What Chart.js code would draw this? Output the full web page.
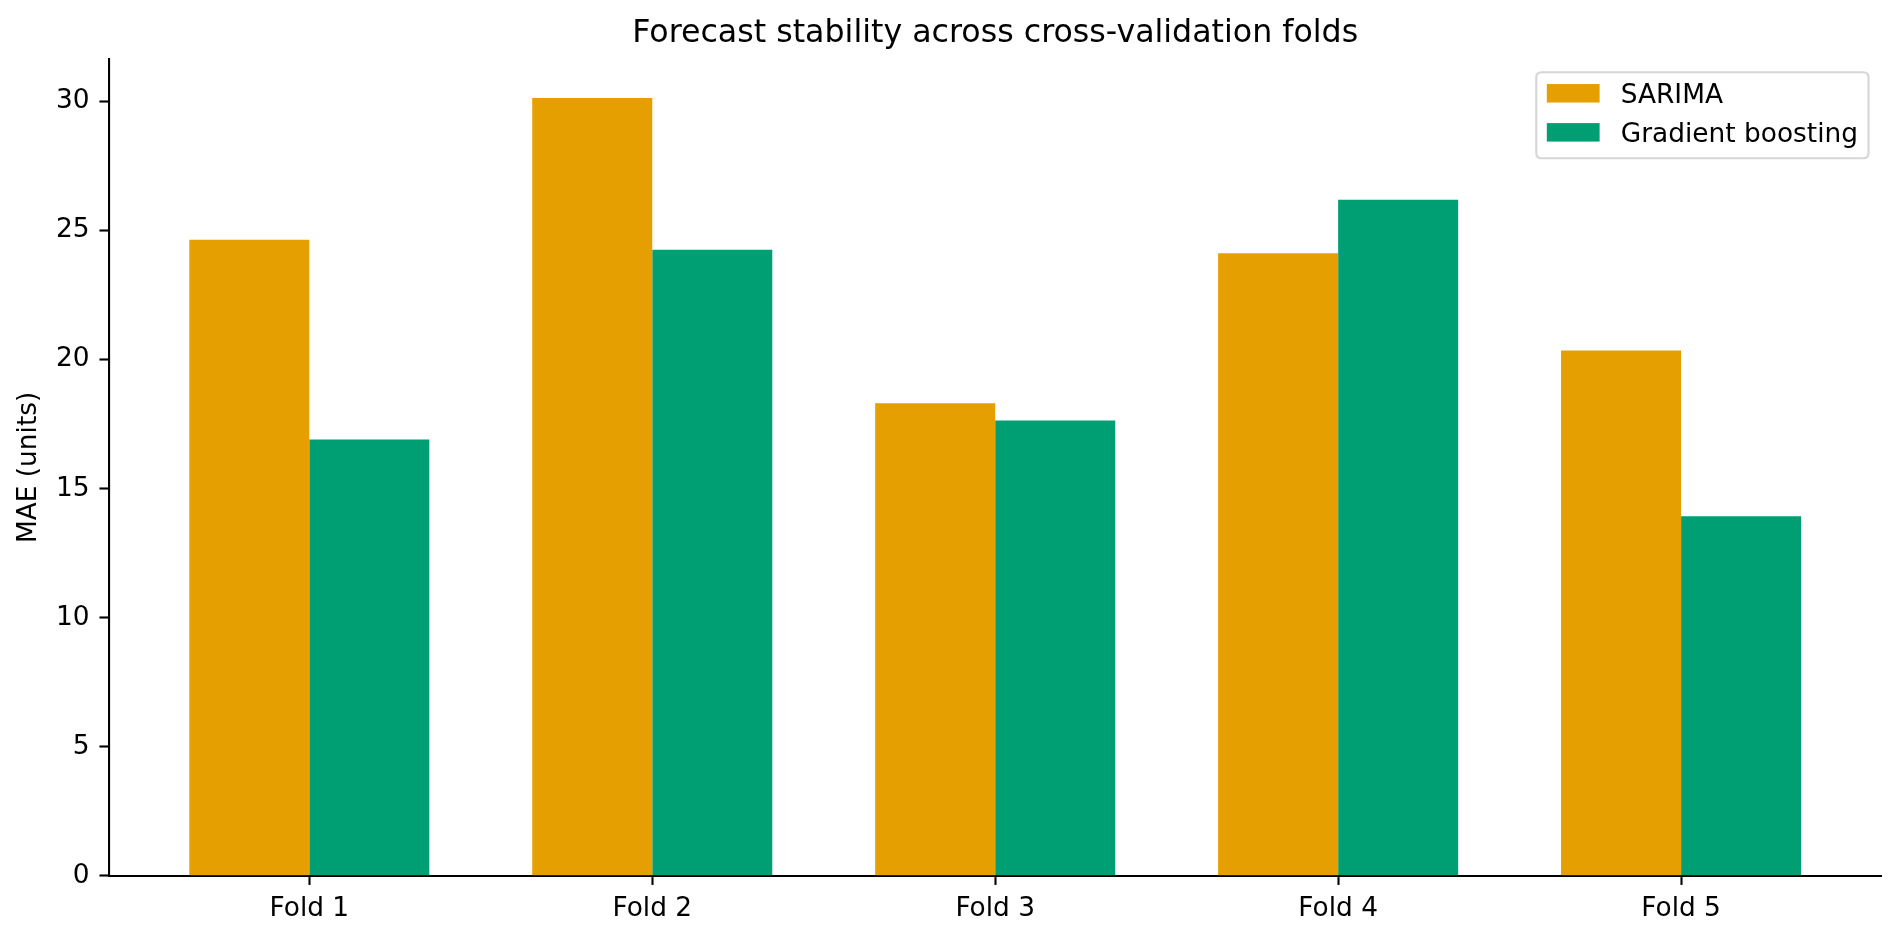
<!DOCTYPE html>
<html>
<head>
<meta charset="utf-8">
<title>Forecast stability across cross-validation folds</title>
<script src="https://cdn.jsdelivr.net/npm/chart.js@4.4.1/dist/chart.umd.min.js"></script>
<style>
    html, body { margin: 0; padding: 0; background: #ffffff; }
    #wrap { width: 1900px; height: 940px; }
</style>
</head>
<body>
<div id="wrap"><canvas id="cvChart" width="1900" height="940"></canvas></div>
<script>
// values
const foldLabels = ['Fold 1', 'Fold 2', 'Fold 3', 'Fold 4', 'Fold 5'];
const sarimaMae = [24.65, 30.14, 18.31, 24.12, 20.35];
const boostingMae = [16.90, 24.26, 17.64, 26.20, 13.93];
const seriesNames = ['SARIMA', 'Gradient boosting'];
const seriesColors = ['#E69F00', '#009E73'];
const yTickStep = 5;

const FONT = '"DejaVu Sans", "Liberation Sans", sans-serif';
const FS = 26.4; // 10pt at 190 dpi

// matplotlib style padding around the data
const xPad = 0.35 + 0.05 * (foldLabels.length - 1 + 0.7);
const yMax = Math.max(...sarimaMae, ...boostingMae) * 1.05;

// legend drawn inside the axes, top right, like matplotlib's 'best'
const innerLegend = {
    id: 'innerLegend',
    afterDraw(chart) {
        const { ctx, chartArea } = chart;
        const sets = chart.data.datasets;
        const pad = 0.4 * FS, handleW = 2 * FS, handleH = 0.7 * FS;
        const textPad = 0.8 * FS, gap = 0.5 * FS, rowH = 25.85;

        ctx.save();
        ctx.font = FS + 'px ' + FONT;
        const textW = Math.max(...sets.map(d => ctx.measureText(d.label).width));
        const w = pad * 2 + handleW + textPad + textW;
        const h = pad * 2 + sets.length * rowH + (sets.length - 1) * gap;
        const right = chartArea.right - 0.5 * FS;
        const top = chartArea.top + 0.5 * FS;
        const left = right - w;

        // rounded frame
        const r = 0.2 * FS;
        ctx.beginPath();
        ctx.moveTo(left + r, top);
        ctx.lineTo(left + w - r, top);
        ctx.quadraticCurveTo(left + w, top, left + w, top + r);
        ctx.lineTo(left + w, top + h - r);
        ctx.quadraticCurveTo(left + w, top + h, left + w - r, top + h);
        ctx.lineTo(left + r, top + h);
        ctx.quadraticCurveTo(left, top + h, left, top + h - r);
        ctx.lineTo(left, top + r);
        ctx.quadraticCurveTo(left, top, left + r, top);
        ctx.closePath();
        ctx.fillStyle = 'rgba(255,255,255,0.8)';
        ctx.fill();
        ctx.lineWidth = 2.1;
        ctx.strokeStyle = 'rgba(204,204,204,0.8)';
        ctx.stroke();

        sets.forEach((d, i) => {
            const cy = top + pad + rowH / 2 + i * (rowH + gap);
            ctx.fillStyle = d.backgroundColor;
            ctx.fillRect(left + pad, cy - 2.5 - handleH / 2, handleW, handleH);
            ctx.fillStyle = '#000000';
            ctx.textAlign = 'left';
            ctx.textBaseline = 'middle';
            ctx.fillText(d.label, left + pad + handleW + textPad, cy);
        });
        ctx.restore();
    }
};

const toPoints = vals => vals.map((v, i) => ({ x: i, y: v }));

new Chart(document.getElementById('cvChart'), {
    type: 'bar',
    data: {
        datasets: [
            {
                label: seriesNames[0],
                data: toPoints(sarimaMae),
                backgroundColor: seriesColors[0],
                borderWidth: 0,
            },
            {
                label: seriesNames[1],
                data: toPoints(boostingMae),
                backgroundColor: seriesColors[1],
                borderWidth: 0,
            },
        ],
    },
    options: {
        responsive: false,
        animation: false,
        devicePixelRatio: 1,
        datasets: {
            bar: {
                categoryPercentage: 0.7,
                barPercentage: 1.0,
            },
        },
        layout: {
            padding: { left: 0, right: 18.3, top: 0, bottom: 0 },
        },
        plugins: {
            legend: { display: false },
            tooltip: { enabled: false },
            title: {
                display: true,
                fullSize: false,
                text: 'Forecast stability across cross-validation folds',
                color: '#000000',
                font: { family: FONT, size: 31.67, weight: 'normal', lineHeight: 1.2 },
                padding: { top: 14.7, bottom: 6.4 },
            },
        },
        scales: {
            x: {
                type: 'linear',
                min: -xPad,
                max: foldLabels.length - 1 + xPad,
                offset: false,
                afterBuildTicks(scale) {
                    scale.ticks = foldLabels.map((_, i) => ({ value: i }));
                },
                afterFit(scale) {
                    scale.height = 64.3;
                },
                ticks: {
                    autoSkip: false,
                    maxRotation: 0,
                    padding: 8,
                    color: '#000000',
                    font: { family: FONT, size: FS },
                    callback: value => foldLabels[value],
                },
                grid: {
                    offset: false,
                    drawOnChartArea: false,
                    drawTicks: true,
                    tickLength: 9.24,
                    tickWidth: 2.1,
                    tickColor: '#000000',
                },
                border: { display: true, color: '#000000', width: 2.1 },
            },
            y: {
                min: 0,
                max: yMax,
                afterFit(scale) {
                    scale.width = 108.7;
                },
                ticks: {
                    stepSize: yTickStep,
                    includeBounds: false,
                    padding: 10,
                    color: '#000000',
                    font: { family: FONT, size: FS },
                },
                grid: {
                    drawOnChartArea: false,
                    drawTicks: true,
                    tickLength: 9.24,
                    tickWidth: 2.1,
                    tickColor: '#000000',
                },
                border: { display: true, color: '#000000', width: 2.1 },
                title: {
                    display: true,
                    text: 'MAE (units)',
                    color: '#000000',
                    font: { family: FONT, size: FS, lineHeight: 1.2 },
                    padding: { top: 13, bottom: 0 },
                },
            },
        },
    },
    plugins: [innerLegend],
});
</script>
</body>
</html>
